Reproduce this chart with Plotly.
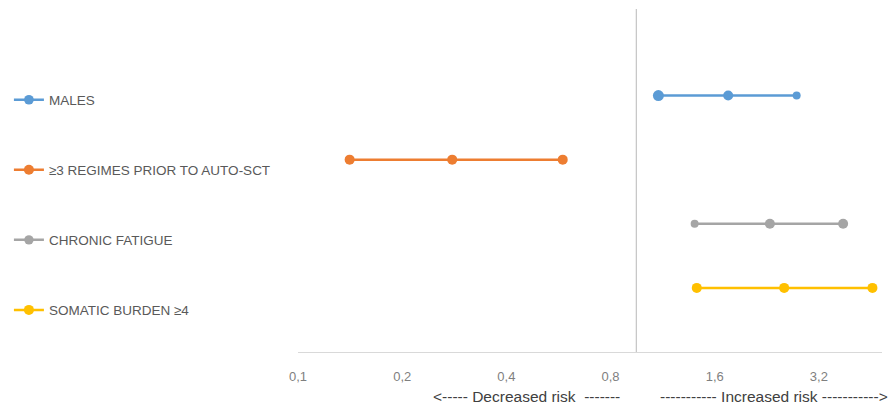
import plotly.graph_objects as go
import math

# ---- data ----
factors = ["MALES", "≥3 REGIMES PRIOR TO AUTO-SCT", "CHRONIC FATIGUE", "SOMATIC BURDEN ≥4"]
lower = [1.10, 0.141, 1.40, 1.42]
estimate = [1.75, 0.279, 2.31, 2.54]
upper = [2.76, 0.582, 3.76, 4.57]
row_pos = [4, 3, 2, 1]
ref_value = 0.95
tick_vals = [0.1, 0.2, 0.4, 0.8, 1.6, 3.2]
tick_text = ["0,1", "0,2", "0,4", "0,8", "1,6", "3,2"]
x_max = 4.87
y_max = 5.35

colors = ["#5B9BD5", "#ED7D31", "#A5A5A5", "#FFC000"]
marker_sizes = [[11, 10, 8], [10, 10, 10], [8, 10, 10], [10, 10, 10]]

FONT = "Liberation Sans, Arial, sans-serif"

fig = go.Figure()

# reference (vertical axis) line
fig.add_trace(go.Scatter(
    x=[ref_value, ref_value], y=[0, y_max], mode="lines",
    line=dict(color="#C8C8C8", width=1.3), showlegend=False, hoverinfo="skip"))

for i, name in enumerate(factors):
    fig.add_trace(go.Scatter(
        x=[lower[i], estimate[i], upper[i]],
        y=[row_pos[i]] * 3,
        mode="lines+markers",
        name=name,
        legendgroup=name,
        line=dict(color=colors[i], width=2.5),
        marker=dict(color=colors[i], size=marker_sizes[i], opacity=1, line=dict(width=0)),
    ))

fig.update_layout(
    width=894, height=409,
    margin=dict(l=298, r=12, t=9, b=57, autoexpand=False),
    paper_bgcolor="white", plot_bgcolor="white",
    font=dict(family=FONT, size=13, color="#595959"),
    showlegend=True,
    legend=dict(
        x=-0.495, y=0.78, xanchor="left", yanchor="top",
        traceorder="grouped", tracegroupgap=49.5,
        font=dict(family=FONT, size=13.5, color="#595959"),
        bgcolor="rgba(0,0,0,0)", itemwidth=30,
    ),
    xaxis=dict(
        type="log",
        range=[math.log10(0.1), math.log10(x_max)],
        tickvals=tick_vals, ticktext=tick_text,
        showgrid=False, zeroline=False,
        showline=True, linecolor="#D9D9D9", linewidth=1,
        ticks="outside", ticklen=12, tickcolor="rgba(0,0,0,0)",
        tickfont=dict(family=FONT, size=13, color="#7F7F7F"),
    ),
    yaxis=dict(
        range=[0, y_max], visible=False, showgrid=False, zeroline=False,
    ),
    annotations=[
        dict(text="<----- Decreased risk  -------", xref="paper", yref="paper",
             x=(526 - 298) / 584, y=-(397 - 352.5) / 343.5, xanchor="center", yanchor="middle",
             showarrow=False, font=dict(family=FONT, size=15.5, color="#404040")),
        dict(text="----------- Increased risk ----------->", xref="paper", yref="paper",
             x=(774 - 298) / 584, y=-(397 - 352.5) / 343.5, xanchor="center", yanchor="middle",
             showarrow=False, font=dict(family=FONT, size=15.5, color="#404040")),
    ],
)

fig.write_html("out.html", config={"displayModeBar": False},
               post_script="document.body.style.margin='0';document.body.style.overflow='hidden';")
